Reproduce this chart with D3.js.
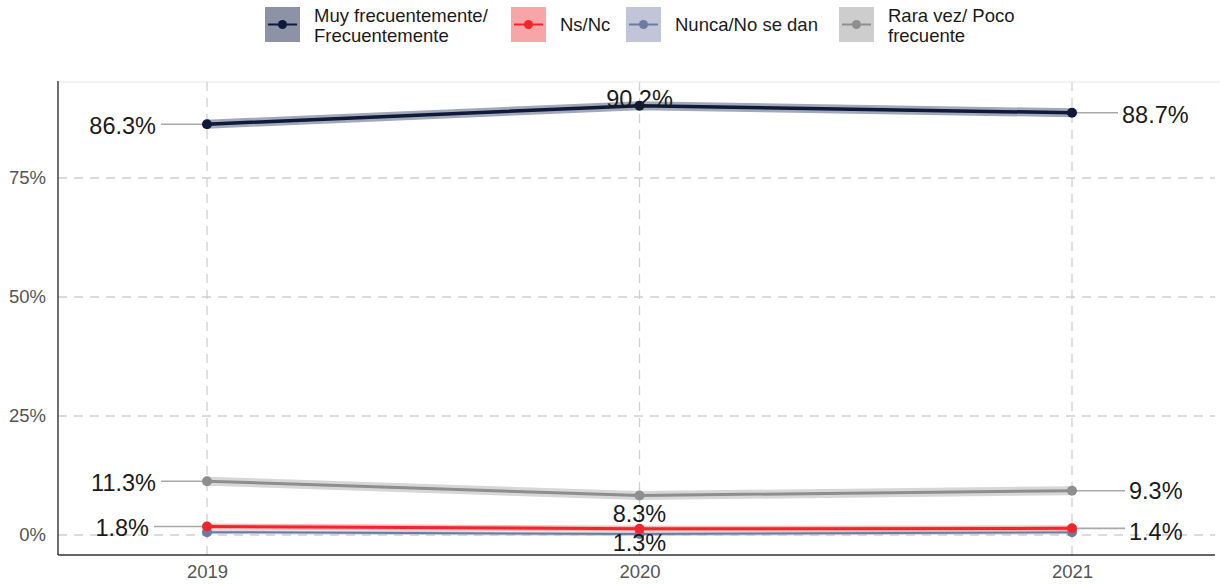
<!DOCTYPE html>
<html><head><meta charset="utf-8">
<script src="https://cdn.jsdelivr.net/npm/d3@7"></script>
<style>body{margin:0;background:#fff;font-family:"Liberation Sans",Arial,sans-serif}</style>
</head><body><svg id="c" width="1220" height="585"></svg>
<script>
const years = ["2019","2020","2021"];
const seriesNames = ["Muy frecuentemente/\nFrecuentemente","Ns/Nc","Nunca/No se dan","Rara vez/ Poco\nfrecuente"];
const muy = [86.3, 90.2, 88.7];
const nsnc = [1.8, 1.3, 1.4];
const nunca = [0.6, 0.2, 0.6];
const rara = [11.3, 8.3, 9.3];
const yTicks = [0, 25, 50, 75];
const lineColors = ["#0d1a3c", "#f0262c", "#6d7ba3", "#8e8e8e"];
const bandColors = ["#8d93a5", "#f8a5a8", "#c1c5d7", "#cdcdcd"];

const svg = d3.select("#c");
const m = {l:58, r:1220, t:82, b:555};
const x = d3.scalePoint().domain(years).range([207, 1072]);
const y = d3.scaleLinear().domain([0, 100]).range([535, 59]);
const FF = "Liberation Sans, Arial, sans-serif";

// panel top border
svg.append("line").attr("x1",m.l).attr("x2",m.r).attr("y1",m.t).attr("y2",m.t).attr("stroke","#e6e6e6").attr("stroke-width",1);

// grid
const g = svg.append("g");
yTicks.forEach(t=>{
  g.append("line").attr("x1",m.l).attr("x2",1215).attr("y1",y(t)).attr("y2",y(t))
   .attr("stroke","#d0d0d0").attr("stroke-width",1.3).attr("stroke-dasharray","9,7");
});
years.forEach(v=>{
  g.append("line").attr("x1",x(v)).attr("x2",x(v)).attr("y1",m.t).attr("y2",m.b)
   .attr("stroke","#d0d0d0").attr("stroke-width",1.3).attr("stroke-dasharray","9,7");
});

// axes
const yAxis = d3.axisLeft(y).tickValues(yTicks).tickFormat(d=>d+"%").tickSize(0).tickPadding(12);
const ya = svg.append("g").attr("transform",`translate(${m.l},0)`).call(yAxis);
ya.select(".domain").remove();
ya.selectAll("text").attr("font-size",18.5).attr("fill","#555").attr("font-family",FF);
const xAxis = d3.axisBottom(x).tickSize(0).tickPadding(10);
const xa = svg.append("g").attr("transform",`translate(0,${m.b})`).call(xAxis);
xa.select(".domain").remove();
xa.selectAll("text").attr("font-size",18.5).attr("fill","#555").attr("font-family",FF);
svg.append("line").attr("x1",m.l).attr("x2",m.l).attr("y1",m.t-1).attr("y2",m.b).attr("stroke","#333").attr("stroke-width",1.4);
svg.append("line").attr("x1",m.l).attr("x2",1215).attr("y1",m.b).attr("y2",m.b).attr("stroke","#333").attr("stroke-width",1.4);

// label definitions (offsets from the point)
const labels = [
  {v:muy, i:0, dx:-51, dy:1, anchor:"end"},
  {v:muy, i:1, dx:0, dy:-7, anchor:"middle", noseg:true},
  {v:muy, i:2, dx:50, dy:2, anchor:"start"},
  {v:rara, i:0, dx:-51, dy:1, anchor:"end"},
  {v:rara, i:1, dx:0, dy:18, anchor:"middle", noseg:true},
  {v:rara, i:2, dx:57, dy:0, anchor:"start"},
  {v:nsnc, i:0, dx:-58, dy:1, anchor:"end"},
  {v:nsnc, i:1, dx:0, dy:14, anchor:"middle", noseg:true},
  {v:nsnc, i:2, dx:57, dy:3, anchor:"start"}
];
const segG = svg.append("g");
labels.forEach(L=>{
  if (L.noseg) return;
  const px = x(years[L.i]), py = y(L.v[L.i]);
  const ex = px + L.dx + (L.anchor==="end" ? 5 : -4);
  segG.append("line").attr("x1",px).attr("x2",ex).attr("y1",py).attr("y2",py)
    .attr("stroke","#a8a8a8").attr("stroke-width",1.6);
});

// series
const data = [muy, nsnc, nunca, rara];
const widths = [3.5, 3, 2, 3];
const bandW = [9, 6, 4, 9];
const order = [3, 0, 2, 1];
const line = d3.line().x((d,i)=>x(years[i])).y(d=>y(d));
order.forEach(s=>{
  svg.append("path").datum(data[s]).attr("d",line).attr("fill","none")
    .attr("stroke",bandColors[s]).attr("stroke-width",bandW[s]).attr("stroke-opacity",0.8);
  svg.append("path").datum(data[s]).attr("d",line).attr("fill","none")
    .attr("stroke",lineColors[s]).attr("stroke-width",widths[s]);
  svg.selectAll(null).data(data[s]).enter().append("circle")
    .attr("cx",(d,i)=>x(years[i])).attr("cy",d=>y(d)).attr("r",5).attr("fill",lineColors[s]);
});

// label text
const tG = svg.append("g");
labels.forEach(L=>{
  const px = x(years[L.i]), py = y(L.v[L.i]) + L.dy;
  tG.append("text").attr("x",px + L.dx).attr("y",py).attr("dy","0.36em")
    .attr("text-anchor",L.anchor).attr("font-size",23.5).attr("fill","#1a1a1a").attr("font-family",FF)
    .text(d3.format(".1f")(L.v[L.i])+"%");
});

// legend
const legX = [265, 511, 626, 839];
const leg = svg.append("g");
seriesNames.forEach((n,s)=>{
  const gx = legX[s];
  leg.append("rect").attr("x",gx).attr("y",7).attr("width",35).attr("height",35).attr("fill",bandColors[s]);
  leg.append("line").attr("x1",gx+3).attr("x2",gx+32).attr("y1",24.5).attr("y2",24.5).attr("stroke",lineColors[s]).attr("stroke-width",2);
  leg.append("circle").attr("cx",gx+17.5).attr("cy",24.5).attr("r",4.5).attr("fill",lineColors[s]);
  const lines = n.split("\n");
  const t = leg.append("text").attr("x",gx+49).attr("font-size",18.5).attr("fill","#1a1a1a").attr("font-family",FF);
  if (lines.length === 1) {
    t.attr("y",25).attr("dy","0.35em").text(lines[0]);
  } else {
    lines.forEach((ln,k)=>{
      t.append("tspan").attr("x",gx+49).attr("y",16 + k*20).attr("dy","0.35em").text(ln);
    });
  }
});
</script></body></html>
